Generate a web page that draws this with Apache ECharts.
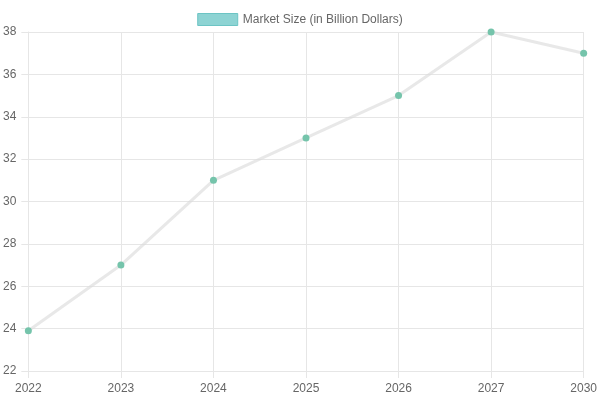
<!DOCTYPE html>
<html>
<head>
<meta charset="utf-8">
<script src="https://cdn.jsdelivr.net/npm/echarts@6/dist/echarts.min.js"></script>
<style>
  html, body { margin: 0; padding: 0; background: #fff; }
  #chart { width: 600px; height: 400px; }
</style>
</head>
<body>
<div id="chart"></div>
<script>
// 数据
var years = ['2022', '2023', '2024', '2025', '2026', '2027', '2030'];
var marketSize = [23.9, 27, 31, 33, 35, 38, 37];
var seriesName = 'Market Size (in Billion Dollars)';

var chart = echarts.init(document.getElementById('chart'));

var gridLine = { show: true, lineStyle: { color: '#e6e6e6', width: 1 } };
var tick = { show: true, length: 7, lineStyle: { color: '#e6e6e6' } };

var option = {
  animation: false,
  textStyle: { fontFamily: 'Liberation Sans, Arial, sans-serif' },
  legend: {
    top: 8,
    left: 'center',
    icon: 'rect',
    itemWidth: 40,
    itemHeight: 12,
    itemGap: 10,
    textStyle: { color: '#666', fontSize: 12 },
    data: [{
      name: seriesName,
      itemStyle: { color: '#8dd3d3', borderColor: '#6cc4c4', borderWidth: 1 }
    }]
  },
  grid: { left: 27, right: 16, top: 32, bottom: 29 },
  xAxis: {
    type: 'category',
    data: years,
    boundaryGap: false,
    axisLine: { show: true, lineStyle: { color: '#e6e6e6' } },
    axisTick: tick,
    splitLine: gridLine,
    axisLabel: { color: '#666', fontSize: 12, margin: 12 }
  },
  yAxis: {
    type: 'value',
    min: 22,
    max: 38,
    interval: 2,
    axisLine: { show: true, lineStyle: { color: '#e6e6e6' } },
    axisTick: tick,
    splitLine: gridLine,
    axisLabel: { color: '#666', fontSize: 12, margin: 12 }
  },
  series: [{
    name: seriesName,
    type: 'line',
    data: marketSize,
    symbol: 'circle',
    symbolSize: 7,
    lineStyle: { color: 'rgba(220,220,220,0.65)', width: 3 },
    itemStyle: { color: '#75c4ab' }
  }]
};

chart.setOption(option);
</script>
</body>
</html>
